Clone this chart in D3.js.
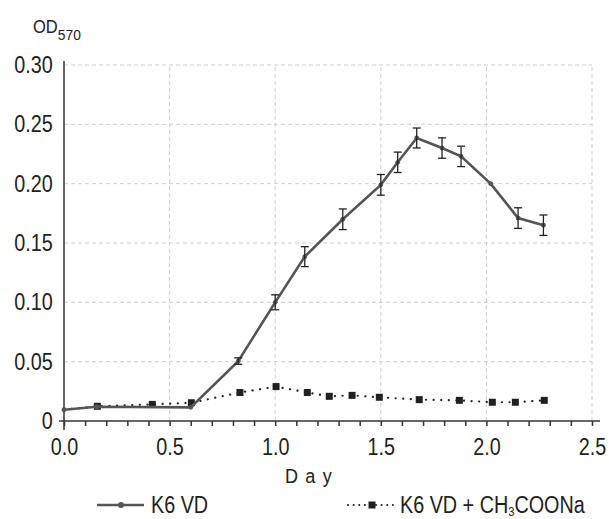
<!DOCTYPE html>
<html>
<head>
<meta charset="utf-8">
<script src="https://cdn.jsdelivr.net/npm/d3@7"></script>
<style>
  body { margin: 0; background: #fff; }
  text { font-family: 'Liberation Sans', Arial, sans-serif; fill: #222; }
</style>
</head>
<body>
<div id="chart"></div>
<script>
var width = 609
var height = 519
var narrow = 0.86   // the original font is a condensed one

// K6 VD (solid line, error bars)
var day1 = [0, 0.155, 0.6, 0.825, 1.0, 1.14, 1.32, 1.5, 1.58, 1.67, 1.79, 1.88, 2.02, 2.15, 2.27]
var od1 = [0.0095, 0.012, 0.0115, 0.0505, 0.100, 0.1385, 0.170, 0.199, 0.218, 0.2385, 0.230, 0.223, 0.200, 0.171, 0.165]
var err1 = [0, 0, 0, 0.0027, 0.0063, 0.0084, 0.0087, 0.0087, 0.0086, 0.0084, 0.0086, 0.0086, 0, 0.0087, 0.0086]

// K6 VD + CH3COONa (dotted line, squares)
var day2 = [0, 0.158, 0.418, 0.603, 0.833, 1.004, 1.152, 1.256, 1.364, 1.493, 1.682, 1.872, 2.028, 2.137, 2.274]
var od2 = [0.0095, 0.0124, 0.014, 0.0154, 0.024, 0.029, 0.024, 0.0208, 0.0216, 0.020, 0.018, 0.0174, 0.0158, 0.0158, 0.0174]

var xMajor = [0, 0.5, 1.0, 1.5, 2.0, 2.5]
var yTicks = [0, 0.05, 0.10, 0.15, 0.20, 0.25, 0.30]
var seriesNames = ["K6 VD", "K6 VD + CH"]

const svg = d3.select("#chart")
    .append('svg')
    .attr('width', width)
    .attr('height', height);

const x = d3.scaleLinear().domain([0, 2.5]).range([64, 592]);
const y = d3.scaleLinear().domain([0, 0.30]).range([421, 65]);

// text squeezed horizontally, placed at (px, py)
function label(px, py, size) {
    return svg.append("text")
        .attr("transform", "translate(" + px + "," + py + ") scale(" + narrow + ",1)")
        .style("font-size", size + "px");
}

// grid
svg.append("g")
    .selectAll("line")
    .data(yTicks.slice(1))
    .enter().append("line")
    .attr("x1", x(0)).attr("x2", x(2.5))
    .attr("y1", d => y(d)).attr("y2", d => y(d))
    .style("stroke", "#cfcfcf").style("stroke-dasharray", "4,3");
svg.append("g")
    .selectAll("line")
    .data(xMajor.slice(1))
    .enter().append("line")
    .attr("y1", y(0)).attr("y2", y(0.30))
    .attr("x1", d => x(d)).attr("x2", d => x(d))
    .style("stroke", "#cfcfcf").style("stroke-dasharray", "4,3");

// x axis with minor ticks every 0.1
const xAxis = d3.axisBottom(x)
    .tickValues(d3.range(0, 26).map(i => i / 10))
    .tickSize(5)
    .tickSizeOuter(0)
    .tickFormat(d => xMajor.some(m => Math.abs(m - d) < 1e-9) ? d3.format(".1f")(d) : "");
const gx = svg.append("g").attr("transform", "translate(0," + y(0) + ")").call(xAxis);
gx.select(".domain").remove();
gx.selectAll(".tick line").style("stroke", "#333").style("stroke-width", 1.5);
gx.selectAll(".tick text").attr("y", 34).attr("dy", 0)
    .attr("transform", "scale(" + narrow + ",1)")
    .style("font-size", "23px").style("fill", "#222");
svg.append("line")
    .attr("x1", 59).attr("x2", 600).attr("y1", y(0)).attr("y2", y(0))
    .style("stroke", "#333").style("stroke-width", 1.5);

// y axis
const yAxis = d3.axisLeft(y)
    .tickValues(yTicks)
    .tickSize(0)
    .tickPadding(13)
    .tickFormat(d => d === 0 ? "0" : d3.format(".2f")(d));
const gy = svg.append("g").attr("transform", "translate(" + x(0) + ",0)").call(yAxis);
gy.select(".domain").remove();
gy.selectAll(".tick text")
    .attr("transform", "scale(" + narrow + ",1)")
    .style("font-size", "23px").style("fill", "#222");
svg.append("line")
    .attr("x1", x(0)).attr("x2", x(0)).attr("y1", 61).attr("y2", 430)
    .style("stroke", "#333").style("stroke-width", 1.5);

// dotted series
const pts2 = day2.map((d, i) => [d, od2[i]]);
svg.append("path")
    .datum(pts2)
    .attr("d", d3.line().x(d => x(d[0])).y(d => y(d[1])))
    .style("fill", "none").style("stroke", "#222").style("stroke-width", 2.2)
    .style("stroke-dasharray", "0.1,7.5").style("stroke-linecap", "round");
svg.append("g")
    .selectAll("rect")
    .data(pts2.slice(1))
    .enter().append("rect")
    .attr("x", d => x(d[0]) - 3.5).attr("y", d => y(d[1]) - 3.5)
    .attr("width", 7).attr("height", 7)
    .style("fill", "#231f20");

// solid series
const pts1 = day1.map((d, i) => [d, od1[i], err1[i]]);
svg.append("path")
    .datum(pts1)
    .attr("d", d3.line().x(d => x(d[0])).y(d => y(d[1])))
    .style("fill", "none").style("stroke", "#555").style("stroke-width", 2.6);
svg.append("g")
    .selectAll("circle")
    .data(pts1)
    .enter().append("circle")
    .attr("cx", d => x(d[0])).attr("cy", d => y(d[1])).attr("r", 2.4)
    .style("fill", "#555");

// error bars
const eb = svg.append("g")
    .selectAll("g")
    .data(pts1.filter(d => d[2] > 0))
    .enter().append("g")
    .style("stroke", "#222").style("stroke-width", 1.3);
eb.append("line")
    .attr("x1", d => x(d[0])).attr("x2", d => x(d[0]))
    .attr("y1", d => y(d[1] - d[2])).attr("y2", d => y(d[1] + d[2]));
eb.append("line")
    .attr("x1", d => x(d[0]) - 4).attr("x2", d => x(d[0]) + 4)
    .attr("y1", d => y(d[1] + d[2])).attr("y2", d => y(d[1] + d[2]));
eb.append("line")
    .attr("x1", d => x(d[0]) - 4).attr("x2", d => x(d[0]) + 4)
    .attr("y1", d => y(d[1] - d[2])).attr("y2", d => y(d[1] - d[2]));

// axis titles
const od = svg.append("text")
    .attr("transform", "translate(33,33) scale(0.92,1)")
    .style("font-size", "18px");
od.append("tspan").text("OD");
od.append("tspan").attr("dy", 7).style("font-size", "15px").text("570");

label(285, 483, 21)
    .style("letter-spacing", "8.5px")
    .text("Day");

// legend
svg.append("line").attr("x1", 97).attr("x2", 144).attr("y1", 505).attr("y2", 505)
    .style("stroke", "#555").style("stroke-width", 2.6);
svg.append("circle").attr("cx", 121).attr("cy", 505).attr("r", 3).style("fill", "#555");
label(151, 513, 23).text(seriesNames[0]);

svg.append("line").attr("x1", 348).attr("x2", 397).attr("y1", 505).attr("y2", 505)
    .style("stroke", "#222").style("stroke-width", 2)
    .style("stroke-dasharray", "0.1,5.5").style("stroke-linecap", "round");
svg.append("rect").attr("x", 368.5).attr("y", 501.5).attr("width", 7).attr("height", 7)
    .style("fill", "#231f20");
const lt = label(400, 513, 23);
lt.append("tspan").text(seriesNames[1]);
lt.append("tspan").attr("dy", 3).style("font-size", "13px").text("3");
lt.append("tspan").attr("dy", -3).text("COONa");
</script>
</body>
</html>
